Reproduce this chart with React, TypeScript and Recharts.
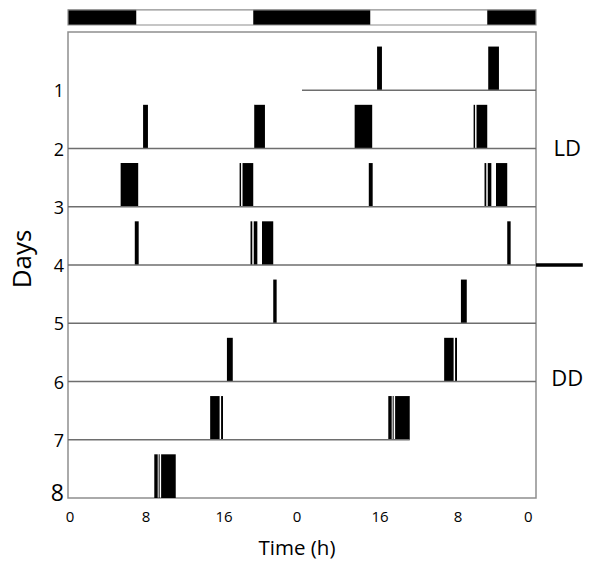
import React from 'react';
import {
  ComposedChart,
  XAxis,
  YAxis,
  ReferenceArea,
  ReferenceLine,
  ReferenceDot,
} from 'recharts';

const FONT = '"Open Sans", "Noto Sans", sans-serif';

// Row (day) tick labels on the Y axis
const rowLabels = [1, 2, 3, 4, 5, 6, 7, 8];

// X axis (double-plotted 48 h) tick positions and their printed labels
const xTickValues = [0.2, 8, 16, 23.5, 32, 40, 47.2];
const xTickLabels = ['0', '8', '16', '0', '16', '8', '0'];

// Activity bouts per recorded day: [start hour, end hour]
const day1Bouts = [[7.7, 8.2], [19.1, 20.2]];
const day2Bouts = [[5.4, 7.2], [17.6, 17.75], [17.9, 19.0]];
const day3Bouts = [[6.85, 7.25], [18.72, 18.9], [19.05, 19.42], [19.9, 21.05]];
const day4Bouts = [[21.05, 21.4]];
const day5Bouts = [[16.3, 16.9]];
const day6Bouts = [[14.58, 15.55], [15.7, 15.9]];
const day7Bouts = [[8.85, 9.2], [9.3, 9.4], [9.55, 11.05]];
const dayBouts = [day1Bouts, day2Bouts, day3Bouts, day4Bouts, day5Bouts, day6Bouts, day7Bouts];

// Recording span (hour of first day, hour of last day)
const recordingStart = 0;
const recordingEnd = 11.05;

// Light/dark schedule across the 48 h double plot
const darkPhases = [[0, 7], [19, 31], [43, 48]];
const lightPhases = [[7, 19], [31, 43]];

// Condition labels and the LD/DD switch row
const conditionLabels = [
  { text: 'LD', row: 2 },
  { text: 'DD', row: 5.95 },
];
const switchRow = 4;

const BAR_H = 0.75;
const BASE_COLOR = '#6e6e6e';
const BOX_COLOR = '#8e8e8e';

export default function App() {
  const areas: React.ReactNode[] = [];
  const lines: React.ReactNode[] = [];
  const lastRow = rowLabels[rowLabels.length - 1];

  dayBouts.forEach((bouts, i) => {
    const rightRow = i + 1;
    const leftRow = i + 2;
    const from = i === 0 ? recordingStart : 0;
    const to = i === dayBouts.length - 1 ? recordingEnd : 24;
    lines.push(
      <ReferenceLine
        key={`br${i}`}
        segment={[{ x: 24 + from, y: rightRow }, { x: 24 + to, y: rightRow }]}
        stroke={BASE_COLOR}
        strokeWidth={1.5}
        ifOverflow="visible"
      />
    );
    if (leftRow < lastRow) {
      lines.push(
        <ReferenceLine
          key={`bl${i}`}
          segment={[{ x: from, y: leftRow }, { x: to, y: leftRow }]}
          stroke={BASE_COLOR}
          strokeWidth={1.5}
          ifOverflow="visible"
        />
      );
    }
    bouts.forEach(([s, e], j) => {
      areas.push(
        <ReferenceArea
          key={`r${i}-${j}`}
          x1={24 + s}
          x2={24 + e}
          y1={rightRow - BAR_H}
          y2={rightRow}
          fill="#000"
          fillOpacity={1}
          stroke="none"
          ifOverflow="visible"
        />
      );
      areas.push(
        <ReferenceArea
          key={`l${i}-${j}`}
          x1={s}
          x2={e}
          y1={leftRow - BAR_H}
          y2={leftRow}
          fill="#000"
          fillOpacity={1}
          stroke="none"
          ifOverflow="visible"
        />
      );
    });
  });

  const renderYTick = (props: any) => {
    const { x, y, payload } = props;
    const big = payload.value === 8;
    return (
      <text
        x={x}
        y={big ? y - 6 : y}
        textAnchor="end"
        dominantBaseline="central"
        fontSize={big ? 23 : 18}
        fontFamily={FONT}
        fill="#000"
      >
        {payload.value}
      </text>
    );
  };

  return (
    <div style={{ width: 600, height: 570, fontFamily: FONT }}>
      <ComposedChart
        width={600}
        height={570}
        data={[]}
        margin={{ top: 24, right: 72, bottom: 0, left: 0 }}
      >
        <XAxis
          type="number"
          dataKey="x"
          domain={[0, 48]}
          allowDataOverflow
          ticks={xTickValues}
          interval={0}
          tickFormatter={(v: number, i: number) => xTickLabels[i]}
          axisLine={false}
          tickLine={false}
          tickSize={0}
          tickMargin={13}
          height={80}
          tick={{ fontSize: 15, fill: '#000', fontFamily: FONT }}
          label={{
            content: (p: any) => {
              const vb = p.viewBox;
              return (
                <text
                  x={vb.x + vb.width / 2 - 5}
                  y={vb.y + 57}
                  textAnchor="middle"
                  fontSize={20.5}
                  fontFamily={FONT}
                  fill="#000"
                >
                  Time (h)
                </text>
              );
            },
          }}
        />
        <YAxis
          type="number"
          dataKey="y"
          domain={[0, 8]}
          allowDataOverflow
          reversed
          ticks={rowLabels}
          interval={0}
          axisLine={false}
          tickLine={false}
          tickSize={0}
          tickMargin={4}
          width={60}
          tick={renderYTick}
          label={{
            content: (p: any) => {
              const vb = p.viewBox;
              const cx = vb.x + 13;
              const cy = vb.y + vb.height / 2 - 6;
              return (
                <text
                  x={cx}
                  y={cy}
                  textAnchor="middle"
                  dominantBaseline="central"
                  transform={`rotate(-90 ${cx} ${cy})`}
                  fontSize={26}
                  fontFamily={FONT}
                  fill="#000"
                >
                  Days
                </text>
              );
            },
          }}
        />

        {/* plot frame */}
        <ReferenceArea
          x1={0}
          x2={48}
          y1={0}
          y2={8}
          fill="none"
          stroke={BOX_COLOR}
          strokeWidth={1.5}
          ifOverflow="visible"
        />

        {/* light/dark bar on top */}
        {lightPhases.map(([a, b], i) => (
          <ReferenceArea
            key={`lp${i}`}
            x1={a}
            x2={b}
            y1={-0.38}
            y2={-0.12}
            fill="#fff"
            fillOpacity={1}
            stroke="none"
            ifOverflow="visible"
          />
        ))}
        {darkPhases.map(([a, b], i) => (
          <ReferenceArea
            key={`dp${i}`}
            x1={a}
            x2={b}
            y1={-0.38}
            y2={-0.12}
            fill="#000"
            fillOpacity={1}
            stroke="none"
            ifOverflow="visible"
          />
        ))}
        <ReferenceArea
          x1={0}
          x2={48}
          y1={-0.38}
          y2={-0.12}
          fill="none"
          stroke={BOX_COLOR}
          strokeWidth={1.2}
          ifOverflow="visible"
        />

        {lines}
        {areas}

        {/* LD -> DD switch marker */}
        <ReferenceLine
          segment={[{ x: 48, y: switchRow }, { x: 52.8, y: switchRow }]}
          stroke="#000"
          strokeWidth={3.5}
          ifOverflow="visible"
        />

        {conditionLabels.map((c) => (
          <ReferenceDot
            key={c.text}
            x={51.2}
            y={c.row}
            r={0}
            fill="none"
            stroke="none"
            ifOverflow="visible"
            label={{ value: c.text, position: 'center', fontSize: 22, fill: '#000', fontFamily: FONT }}
          />
        ))}
      </ComposedChart>
    </div>
  );
}
